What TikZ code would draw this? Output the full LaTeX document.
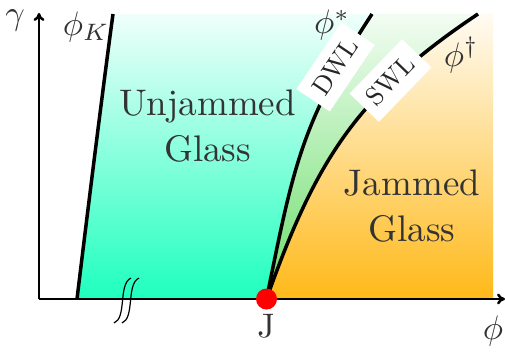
\documentclass[tikz,border=0pt]{standalone}
\usetikzlibrary{arrows.meta}
\definecolor{cyanC}{RGB}{30,255,190}
\definecolor{greenC}{RGB}{105,222,105}
\definecolor{orangeC}{RGB}{255,185,25}
\begin{document}
\begin{tikzpicture}[x=1pt,y=-1pt,
  curve/.style={line width=3.5pt},
  axis/.style={line width=2.5pt,-{To[length=8pt,width=11pt]}},
  brk/.style={line width=1.2pt},
  lab/.style={text=black!80,scale=3.4},
  big/.style={text=black!80,align=center,scale=3.7},
  wl/.style={fill=white,text=black!85,scale=2.6,inner xsep=3.5pt,inner ysep=4.2pt}]
\useasboundingbox (0,0) rectangle (505,351);
% key points
\coordinate (O) at (39,299);
\coordinate (Ytop) at (39,13);
\coordinate (Xend) at (505,299);
\coordinate (J) at (266.5,299);
\coordinate (Kb) at (77,299);
\coordinate (Kt) at (113,14);
\coordinate (St) at (372,14);
\coordinate (Dt) at (478,14);
\coordinate (Rt) at (493,14);
\coordinate (Rb) at (493,299);
% fills
\shade[top color=cyanC!7!white,bottom color=cyanC]
  (Kb) .. controls (89,200) and (104,80) .. (Kt) -- (St)
  .. controls (300.5,123) and (293,169) .. (J) -- cycle;
\shade[top color=greenC!8!white,bottom color=greenC]
  (J) .. controls (293,169) and (300.5,123) .. (St) -- (Dt)
  .. controls (358,94) and (316,159) .. (J) -- cycle;
\shade[top color=orangeC!5!white,bottom color=orangeC]
  (J) .. controls (316,159) and (358,94) .. (Dt) -- (Rt) -- (Rb) -- cycle;
% curves
\draw[curve] (Kb) .. controls (89,200) and (104,80) .. (Kt);
\draw[curve] (J) .. controls (293,169) and (300.5,123) .. (St);
\draw[curve] (J) .. controls (316,159) and (358,94) .. (Dt);
% axes
\draw[axis] (O) -- (Ytop);
\draw[axis] (O) -- (Xend);
% break marks
\coordinate (b1t) at (131,278); \coordinate (b1b) at (114,323);
\coordinate (b2t) at (139,278); \coordinate (b2b) at (122,323);
\draw[brk] (b1t) .. controls (118,284) and (127,318) .. (b1b);
\draw[brk] (b2t) .. controls (126,284) and (135,318) .. (b2b);
% J point
\fill[red] (J) circle (10.5);
% labels
\node[lab] (gam) at (15,20) {$\gamma$};
\node[lab] (phK) at (86,27) {$\phi_K$};
\node[lab] (phS) at (332,25) {$\phi^*$};
\node[lab] (phD) at (461,55) {$\phi^\dagger$};
\node[lab] (Jl) at (266,326) {J};
\node[lab] (phX) at (493,331) {$\phi$};
\node[big] (unj) at (207.5,126) {Unjammed\\[0.5pt]Glass};
\node[big] (jam) at (412,206) {Jammed\\[0.5pt]Glass};
\node[wl,rotate=56] (dwl) at (335.5,67) {DWL};
\node[wl,rotate=46] (swl) at (390.5,80.5) {SWL};
\end{tikzpicture}
\end{document}
